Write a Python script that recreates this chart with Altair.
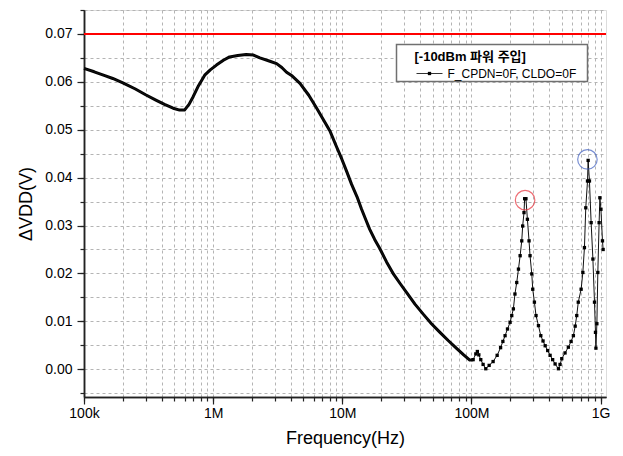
import altair as alt
import pandas as pd

# ---- data ----
freq = [1.0e5, 1.2e5, 1.45e5, 1.67e5, 2.0e5, 2.5e5, 3.0e5, 3.6e5, 4.2e5, 4.9e5,
        5.5e5, 6.0e5, 6.5e5, 7.0e5, 7.7e5, 8.6e5, 9.5e5, 1.06e6, 1.2e6, 1.34e6,
        1.55e6, 1.8e6, 2.05e6, 2.3e6, 2.75e6, 3.1e6, 3.4e6, 3.7e6, 4.1e6, 4.7e6,
        5.5e6, 6.3e6, 7.1e6, 8.0e6, 9.0e6, 9.9e6, 1.08e7, 1.18e7, 1.3e7, 1.41e7,
        1.52e7, 1.63e7, 1.78e7, 1.95e7, 2.2e7, 2.5e7, 2.8e7, 3.15e7, 3.65e7, 4.23e7,
        4.9e7, 5.7e7, 6.6e7, 7.7e7, 8.7e7, 9.7e7, 1.03e8, 1.08e8, 1.11e8, 1.14e8,
        1.18e8, 1.23e8, 1.29e8, 1.37e8, 1.47e8, 1.58e8, 1.68e8, 1.75e8, 1.82e8, 1.9e8,
        1.99e8, 2.05e8, 2.11e8, 2.17e8, 2.24e8, 2.31e8, 2.38e8, 2.45e8, 2.49e8, 2.55e8,
        2.58e8, 2.64e8, 2.71e8, 2.79e8, 2.84e8, 2.93e8, 2.98e8, 3.07e8, 3.16e8, 3.3e8,
        3.44e8, 3.58e8, 3.72e8, 3.89e8, 4.06e8, 4.25e8, 4.44e8, 4.71e8, 4.85e8, 5.0e8,
        5.3e8, 5.62e8, 5.9e8, 6.15e8, 6.35e8, 6.53e8, 6.71e8, 7.06e8, 7.28e8, 7.49e8,
        7.67e8, 7.91e8, 8.0e8, 8.19e8, 8.44e8, 8.71e8, 8.96e8, 9.12e8, 9.19e8, 9.35e8,
        9.51e8, 9.73e8, 9.86e8, 1.005e9, 1.033e9, 1.045e9]
dvdd = [0.0628, 0.0621, 0.0613, 0.0607, 0.0598, 0.0585, 0.0573, 0.0562, 0.0553, 0.0545,
        0.0541, 0.0541, 0.0553, 0.0569, 0.0592, 0.0614, 0.0625, 0.0635, 0.0645, 0.0652,
        0.0655, 0.0657, 0.0656, 0.0650, 0.0643, 0.0638, 0.0630, 0.0620, 0.0612, 0.0597,
        0.0572, 0.0546, 0.0522, 0.0498, 0.0465, 0.0439, 0.0413, 0.0386, 0.0360, 0.0334,
        0.0312, 0.0292, 0.0271, 0.0252, 0.0224, 0.0198, 0.0179, 0.0160, 0.0136, 0.0115,
        0.0095, 0.0077, 0.0060, 0.0043, 0.0030, 0.0019, 0.0020, 0.0032, 0.0037, 0.0030,
        0.0020, 0.0010, 0.0001, 0.0008, 0.0016, 0.0029, 0.0045, 0.0058, 0.0070, 0.0084,
        0.0098, 0.0112, 0.0126, 0.0157, 0.0181, 0.0209, 0.0237, 0.0268, 0.0299, 0.0327,
        0.0356, 0.0356, 0.0313, 0.0268, 0.0237, 0.0199, 0.0167, 0.0140, 0.0112, 0.0091,
        0.0070, 0.0059, 0.0049, 0.0039, 0.0029, 0.0020, 0.0011, 0.0001, 0.0010, 0.0022,
        0.0034, 0.0046, 0.0058, 0.0070, 0.0090, 0.0112, 0.0140, 0.0167, 0.0202, 0.0254,
        0.0337, 0.0393, 0.0436, 0.0393, 0.0306, 0.0230, 0.0140, 0.0077, 0.0044, 0.0095,
        0.0202, 0.0306, 0.0358, 0.0334, 0.0268, 0.0250]

limit_value = [0.07]
ann_f = [2.6e8, 7.9e8]
ann_v = [0.0353, 0.0438]
ann_color = ["#e8303a", "#4060c0"]

x_major = [1e5, 1e6, 1e7, 1e8, 1e9]
x_major_labels = ["100k", "1M", "10M", "100M", "1G"]
y_major = [0.00, 0.01, 0.02, 0.03, 0.04, 0.05, 0.06, 0.07]
legend_title = "[-10dBm 파워 주입]"
legend_label = "F_CPDN=0F, CLDO=0F"

FONT = "Liberation Sans, Arial, 'Noto Sans CJK KR', sans-serif"

df = pd.DataFrame({"f": freq, "v": dvdd})
ann = pd.DataFrame({"f": ann_f, "v": ann_v, "c": ann_color})
lim = pd.DataFrame({"v": limit_value})
one = pd.DataFrame({"a": [0]})

# minor tick / grid positions
x_minor = []
for e in range(5, 9):
    for m in range(1, 10):
        x_minor.append(float(m) * 10 ** e)
x_minor.append(1e9)
y_minor = [round(-0.005 + i * 0.005, 3) for i in range(17)]

label_expr = " : ".join([f"datum.value == {k:g} ? '{v}'" for k, v in zip(x_major, x_major_labels)]) + " : ''"

xscale = alt.Scale(type="log", domain=[1e5, 1.1e9], nice=False)
yscale = alt.Scale(domain=[-0.0058, 0.075], nice=False, zero=False)

common = dict(domainColor="#222", domainWidth=1.5, tickColor="#222", tickWidth=1.2)

x_axis_major = alt.Axis(
    values=x_major, labelExpr=label_expr, title="Frequency(Hz)", orient="bottom",
    tickSize=7, grid=False,
    labelFontSize=14, titleFontSize=18, labelPadding=2, titlePadding=9,
    labelFont=FONT, titleFont=FONT, titleFontWeight="normal",
    labelColor="#000", titleColor="#000",
    labelFlush=False, labelOverlap=False, **common,
)
y_axis_major = alt.Axis(
    values=y_major, format=".2f", title="ΔVDD(V)", orient="left",
    tickSize=7, grid=False,
    labelFontSize=14, titleFontSize=18, labelPadding=5, titlePadding=9,
    labelFont=FONT, titleFont=FONT, titleFontWeight="normal",
    labelColor="#000", titleColor="#000",
    labelFlush=False, labelOverlap=False, **common,
)
x_axis_minor = alt.Axis(
    values=x_minor, labels=False, title=None, orient="bottom", tickSize=4,
    grid=True, gridDash=[3, 3], gridColor="#b4b4b4", gridWidth=1, **common,
)
y_axis_minor = alt.Axis(
    values=y_minor, labels=False, title=None, orient="left", tickSize=4,
    grid=True, gridDash=[3, 3], gridColor="#b4b4b4", gridWidth=1, **common,
)

base = alt.Chart(df)
thick = base.transform_filter("datum.f < 1.05e8").mark_line(
    color="#000", strokeWidth=3, strokeJoin="round"
).encode(x=alt.X("f:Q", scale=xscale, axis=x_axis_major),
         y=alt.Y("v:Q", scale=yscale, axis=y_axis_major))
thin = base.mark_line(color="#111", strokeWidth=1).encode(
    x=alt.X("f:Q", axis=x_axis_minor), y=alt.Y("v:Q", axis=y_axis_minor))
marks = base.transform_filter("datum.f >= 1.0e8").mark_square(
    color="#000", size=11, opacity=1
).encode(x=alt.X("f:Q", axis=None), y=alt.Y("v:Q", axis=None))

limit = alt.Chart(lim).mark_rule(color="#ff0000", strokeWidth=2).encode(
    y=alt.Y("v:Q", axis=None))

circles = alt.Chart(ann).mark_point(shape="circle", filled=False, size=380, strokeWidth=1.2).encode(
    x=alt.X("f:Q", axis=None), y=alt.Y("v:Q", axis=None), color=alt.Color("c:N", scale=None)
)

box = alt.Chart(one).mark_rect(fill="white", stroke="#707070", strokeWidth=1.5).encode(
    x=alt.value(312.5), x2=alt.value(503.5), y=alt.value(34.5), y2=alt.value(71.5)
)
t1 = alt.Chart(one).mark_text(align="left", baseline="middle", font=FONT, fontSize=13,
                              fontWeight="bold", color="#000").encode(
    x=alt.value(330.5), y=alt.value(46.5), text=alt.value(legend_title))
lg_line = alt.Chart(one).mark_rule(color="#333", strokeWidth=1).encode(
    x=alt.value(332.5), x2=alt.value(358.5), y=alt.value(63.5))
lg_sq = alt.Chart(one).mark_square(color="#000", size=11, opacity=1).encode(
    x=alt.value(345.5), y=alt.value(63.5))
t2 = alt.Chart(one).mark_text(align="left", baseline="middle", font=FONT, fontSize=12,
                              color="#000").encode(
    x=alt.value(363.5), y=alt.value(63.5), text=alt.value(legend_label))

chart = alt.layer(thick, thin, marks, limit, circles, box, t1, lg_line, lg_sq, t2).resolve_axis(
    x="independent", y="independent"
).properties(
    width=522, height=387,
    autosize=alt.AutoSizeParams(type="none"),
    padding={"left": 76, "top": 2, "right": 9, "bottom": 51},
).configure_view(stroke="#222", strokeWidth=1.5).configure(background="white")

chart.save("out.html", embed_options={"renderer": "svg", "actions": False})
